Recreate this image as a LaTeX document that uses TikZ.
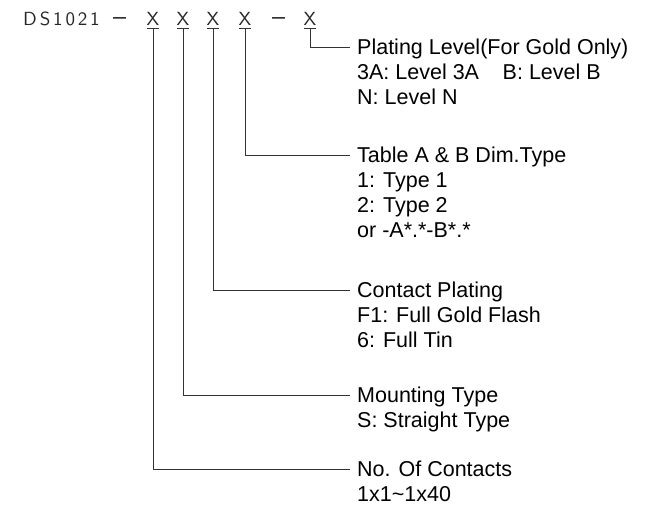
\documentclass[tikz,border=0pt]{standalone}
\usepackage{fontspec}
\setmainfont{Liberation Sans}
\newfontfamily\cadfont[LetterSpace=15]{lmsans10-regular.otf}
\tikzset{
  hdr/.style={font=\fontsize{19}{19}\selectfont\cadfont, inner sep=0pt, text=black!85},
  xch/.style={hdr, anchor=base},
  dsh/.style={font=\fontsize{26}{26}\selectfont\cadfont, inner sep=0pt, text=black!85, anchor=base},
  desc/.style={font=\fontsize{21.5}{25}\selectfont, align=left, anchor=base west, inner sep=0pt, text=black},
  lead/.style={draw=black!80, line width=0.8pt},
}
\begin{document}
\begin{tikzpicture}[x=1pt,y=-1pt]
\useasboundingbox[fill=white] (0,0) rectangle (653,510);
% header
\node[hdr, anchor=base west] (pn) at (23,26) {DS1021};
\node[dsh] (d1) at (119.5,26) {–};
\node[xch] (x1) at (153,26) {X};
\node[xch] (x2) at (183,26) {X};
\node[xch] (x3) at (213,26) {X};
\node[xch] (x4) at (245,26) {X};
\node[dsh] (d2) at (278.5,26) {–};
\node[xch] (x5) at (310,26) {X};
% underlines under X
\foreach \i/\xx in {1/153,2/183,3/213,4/245,5/310}{
  \coordinate (u\i) at (\xx,28.5);
  \draw[lead] (\xx-6,28.5) -- (\xx+6,28.5);
}
% leader end points
\coordinate (e5) at (350,47);
\coordinate (e4) at (350,155);
\coordinate (e3) at (350,290);
\coordinate (e2) at (350,395);
\coordinate (e1) at (350,469);
% descriptions (base anchor = baseline of last line)
\node[desc] (t5) at (357,47+7.7+50) {Plating Level(For Gold Only)\\3A: Level 3A\hspace{1.1em}B: Level B\\N: Level N};
\node[desc] (t4) at (357,155+7.7+75) {Table A \& B Dim.Type\\1: Type 1\\2: Type 2\\or -A*.*-B*.*};
\node[desc] (t3) at (357,290+7.7+50) {Contact Plating\\F1: Full Gold Flash\\6: Full Tin};
\node[desc] (t2) at (357,395+7.7+25) {Mounting Type\\S: Straight Type};
\node[desc] (t1) at (357,469+7.7+25) {No. Of Contacts\\1x1\textasciitilde 1x40};
% leaders
\draw[lead] (u5) |- (e5);
\draw[lead] (u4) |- (e4);
\draw[lead] (u3) |- (e3);
\draw[lead] (u2) |- (e2);
\draw[lead] (u1) |- (e1);
\end{tikzpicture}
\end{document}
